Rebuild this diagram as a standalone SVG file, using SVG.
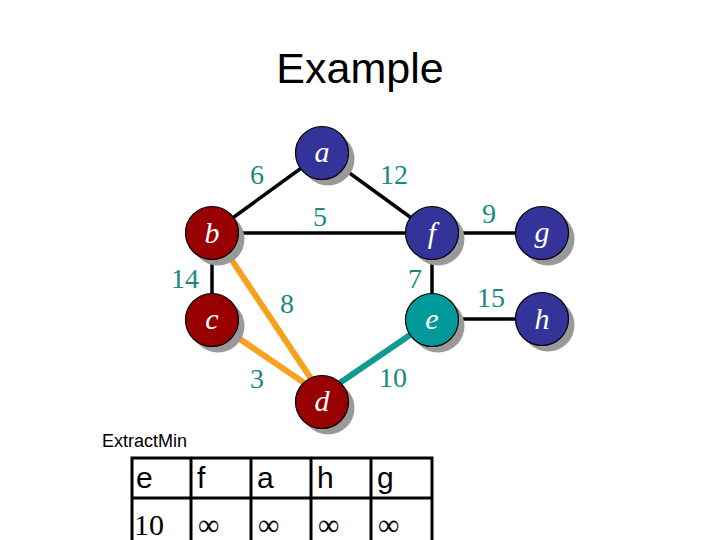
<svg xmlns="http://www.w3.org/2000/svg" width="720" height="540" viewBox="0 0 720 540">
<style>
.sh{fill:#999999}
.nd circle.c{stroke:#000;stroke-width:1.2}
.blue{fill:#333399}
.red{fill:#990000}
.teal{fill:#009999}
.lt{font-family:"Liberation Serif",serif;font-style:italic;font-size:30px;fill:#fff;text-anchor:middle}
.w{font-family:"Liberation Serif",serif;font-size:28px;fill:#178a80;text-anchor:middle}
.blk{stroke:#000;stroke-width:3.5}
.org{stroke:#f7a11d;stroke-width:6}
.tl{stroke:#119a94;stroke-width:6}
.sans{font-family:"Liberation Sans",Arial,sans-serif}
.tb{fill:none;stroke:#000;stroke-width:3}
.tt{font-family:"Liberation Sans",Arial,sans-serif;font-size:30px;fill:#000}
.inf{font-family:"Liberation Serif",serif;font-size:30px;fill:#000}
</style>
<rect width="720" height="540" fill="#fff"/>
<text x="360" y="83" class="sans" font-size="43" text-anchor="middle">Example</text>
<g id="connectors">
<line class="blk" x1="322" y1="153" x2="212" y2="233"/>
<line class="blk" x1="322" y1="153" x2="432" y2="233"/>
<line class="blk" x1="212" y1="233" x2="432" y2="233"/>
<line class="blk" x1="212" y1="233" x2="212" y2="320"/>
<line class="blk" x1="432" y1="233" x2="432" y2="320"/>
<line class="blk" x1="432" y1="233" x2="542" y2="233"/>
<line class="blk" x1="432" y1="319" x2="542" y2="319"/>
<line class="org" x1="225" y1="250" x2="322" y2="395"/>
<line class="org" x1="212" y1="320" x2="322" y2="395"/>
<line class="tl" x1="432" y1="320" x2="322" y2="395"/>
</g>
<g id="weights">
<text class="w" x="257" y="184">6</text>
<text class="w" x="394" y="184">12</text>
<text class="w" x="320" y="226">5</text>
<text class="w" x="185" y="288">14</text>
<text class="w" x="287" y="313">8</text>
<text class="w" x="415" y="288">7</text>
<text class="w" x="257" y="388">3</text>
<text class="w" x="393" y="387">10</text>
<text class="w" x="489" y="223">9</text>
<text class="w" x="491" y="307">15</text>
</g>
<g id="node-a" class="nd"><circle class="sh" cx="328" cy="159" r="26.5"/><circle class="c blue" cx="322" cy="153" r="26.5"/><text class="lt" x="322" y="162">a</text></g>
<g id="node-b" class="nd"><circle class="sh" cx="218" cy="239" r="26.5"/><circle class="c red" cx="212" cy="233" r="26.5"/><text class="lt" x="212" y="243">b</text></g>
<g id="node-c" class="nd"><circle class="sh" cx="218" cy="326" r="26.5"/><circle class="c red" cx="212" cy="320" r="26.5"/><text class="lt" x="212" y="329">c</text></g>
<g id="node-d" class="nd"><circle class="sh" cx="328" cy="408" r="26.5"/><circle class="c red" cx="322" cy="402" r="26.5"/><text class="lt" x="322" y="411">d</text></g>
<g id="node-f" class="nd"><circle class="sh" cx="438" cy="239" r="26.5"/><circle class="c blue" cx="432" cy="233" r="26.5"/><text class="lt" x="432" y="243">f</text></g>
<g id="node-e" class="nd"><circle class="sh" cx="438" cy="326" r="26.5"/><circle class="c teal" cx="432" cy="320" r="26.5"/><text class="lt" x="432" y="329">e</text></g>
<g id="node-g" class="nd"><circle class="sh" cx="548" cy="239" r="26.5"/><circle class="c blue" cx="542" cy="233" r="26.5"/><text class="lt" x="542" y="242">g</text></g>
<g id="node-h" class="nd"><circle class="sh" cx="548" cy="325" r="26.5"/><circle class="c blue" cx="542" cy="319" r="26.5"/><text class="lt" x="542" y="329">h</text></g>
<g id="extractmin">
<text x="102" y="447" class="sans" font-size="18">ExtractMin</text>
<rect class="tb" x="132" y="458" width="300" height="100"/>
<line class="tb" x1="132" y1="498" x2="432" y2="498"/>
<line class="tb" x1="191" y1="458" x2="191" y2="540"/>
<line class="tb" x1="251" y1="458" x2="251" y2="540"/>
<line class="tb" x1="311" y1="458" x2="311" y2="540"/>
<line class="tb" x1="371" y1="458" x2="371" y2="540"/>
<text class="tt" x="136" y="488">e</text>
<text class="tt" x="197" y="488">f</text>
<text class="tt" x="257" y="488">a</text>
<text class="tt" x="317" y="488">h</text>
<text class="tt" x="377" y="488">g</text>
<text class="inf" x="134" y="535" font-size="32">10</text>
<text class="inf" x="198" y="535">∞</text>
<text class="inf" x="258" y="535">∞</text>
<text class="inf" x="318" y="535">∞</text>
<text class="inf" x="378" y="535">∞</text>
</g>
</svg>
